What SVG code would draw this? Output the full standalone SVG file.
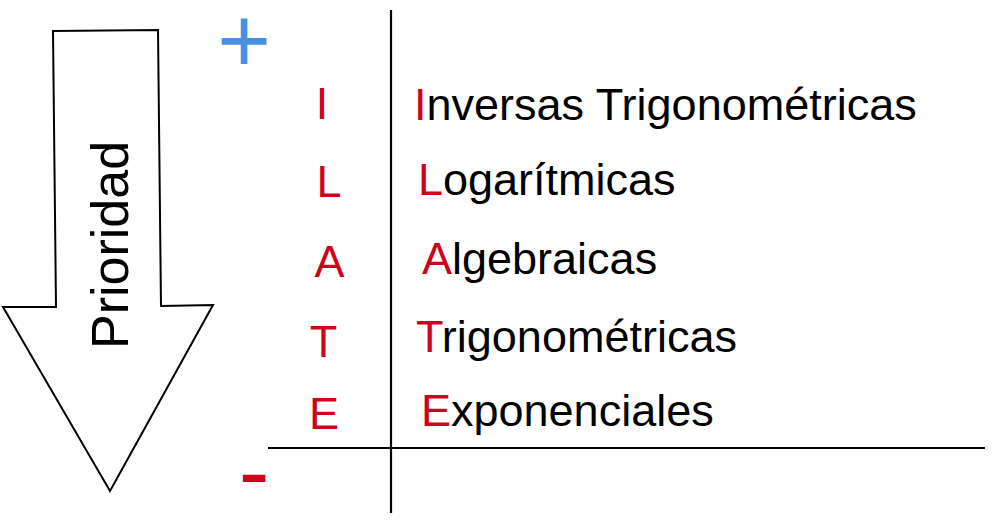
<svg xmlns="http://www.w3.org/2000/svg" width="993" height="525" viewBox="0 0 993 525">
<style>
.t{font-family:"Liberation Sans",Arial,sans-serif;font-size:45px;fill:#000}
.r{fill:#D0021B}
.ln{stroke:#000;stroke-width:2.2;fill:none}
</style>
<rect width="993" height="525" fill="#fff"/>
<g id="arrow">
<polygon points="53,31 158,30 161,306 213,305 110,491 3,307 56,307" fill="#fff" stroke="#000" stroke-width="2"/>
<text class="t" font-size="52" style="font-size:52px" transform="translate(128,349) rotate(-90)">Prioridad</text>
</g>
<g id="signs">
<text x="244" y="72" text-anchor="middle" style="font-family:'Liberation Sans',Arial,sans-serif;font-size:92px;fill:#4A90E2">+</text>
<text x="254" y="503" text-anchor="middle" style="font-family:'Liberation Sans',Arial,sans-serif;font-size:92px;fill:#D0021B">-</text>
</g>
<g id="connectors">
<line class="ln" x1="391" y1="10" x2="391" y2="513"/>
<line class="ln" x1="268" y1="448" x2="985" y2="448"/>
</g>
<g id="initials">
<text class="t r" x="322" y="119" text-anchor="middle">I</text>
<text class="t r" x="329" y="197" text-anchor="middle">L</text>
<text class="t r" x="329.5" y="277" text-anchor="middle">A</text>
<text class="t r" x="323.5" y="357" text-anchor="middle">T</text>
<text class="t r" x="324" y="429" text-anchor="middle">E</text>
</g>
<g id="row1"><text class="t" x="414" y="120"><tspan class="r">I</tspan>nversas Trigonométricas</text></g>
<g id="row2"><text class="t" x="418" y="195"><tspan class="r">L</tspan>ogarítmicas</text></g>
<g id="row3"><text class="t" x="422" y="274"><tspan class="r">A</tspan>lgebraicas</text></g>
<g id="row4"><text class="t" x="416" y="352"><tspan class="r">T</tspan>rigonométricas</text></g>
<g id="row5"><text class="t" x="421" y="426"><tspan class="r">E</tspan>xponenciales</text></g>
</svg>
